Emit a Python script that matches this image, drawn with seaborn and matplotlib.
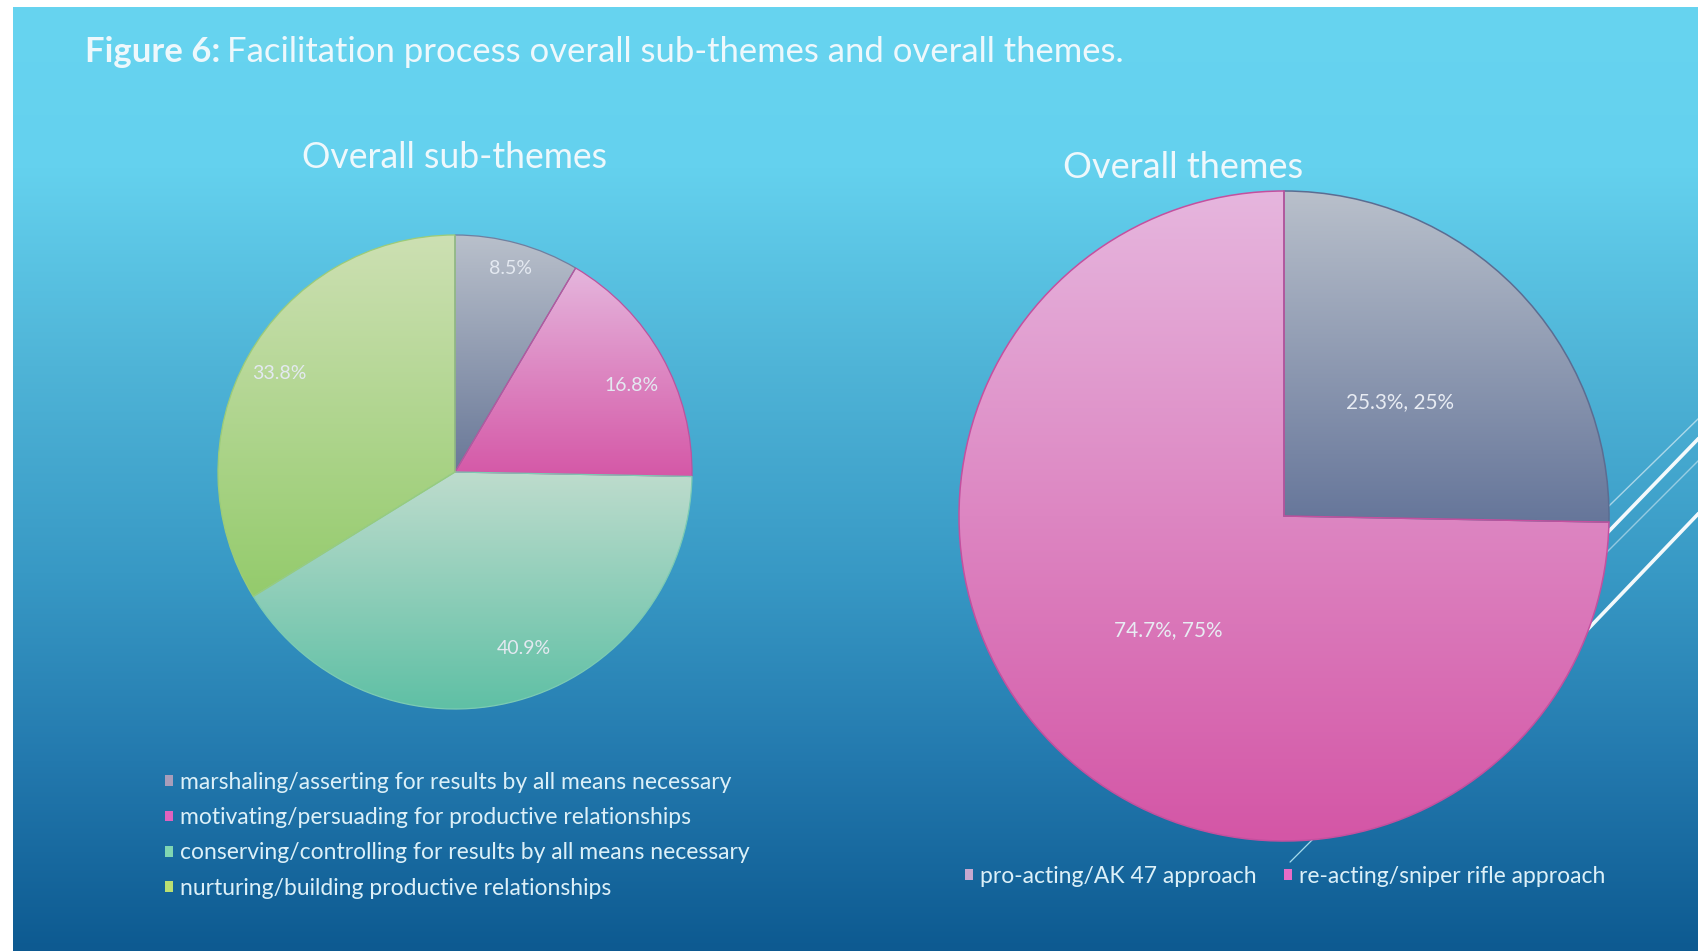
import numpy as np
import matplotlib
matplotlib.use("Agg")
import matplotlib.pyplot as plt
from matplotlib.colors import LinearSegmentedColormap
from matplotlib.patches import Patch
import seaborn as sns

# ---- data -------------------------------------------------------------
sub_labels = [
    "marshaling/asserting for results by all means necessary",
    "motivating/persuading for productive relationships",
    "conserving/controlling for results by all means necessary",
    "nurturing/building productive relationships",
]
sub_values = [8.5, 16.8, 40.9, 33.8]

theme_labels = ["pro-acting/AK 47 approach", "re-acting/sniper rifle approach"]
theme_values = [25.3, 74.7]

title_bold = "Figure 6:"
title_rest = "Facilitation process overall sub-themes and overall themes."
sub_title = "Overall sub-themes"
theme_title = "Overall themes"

# label placement inside the sub-theme slices (radius, angular nudge in deg)
sub_label_radius = [0.89, 0.83, 0.80, 0.85]
sub_label_nudge = [0, -3, 6, 0]

# ---- colours ------------------------------------------------------------
sub_tops = ["#b9c0cb", "#e5b6dd", "#bedccd", "#cde0b3"]
sub_bottoms = ["#697898", "#d558a7", "#5fc0a5", "#94cb6c"]
sub_edges = ["#6f7fa0", "#b9549f", "#7ccbb3", "#9ccc78"]
sub_keys = ["#a89dba", "#e062be", "#80d6b2", "#badf72"]

theme_tops = ["#b9c0cb", "#e6b6de"]
theme_bottoms = ["#66769a", "#d456a6"]
theme_edges = ["#5b6d92", "#c4509f"]
theme_keys = ["#c6a8cf", "#e86cc6"]

text_col = "#eef8fc"

sns.set_theme(style="white")
plt.rcParams["font.family"] = ["Lato", "DejaVu Sans"]

W, H = 1699, 951
fig = plt.figure(figsize=(W / 100, H / 100), dpi=100, facecolor="white")
renderer = fig.canvas.get_renderer()


def px(x, y):
    """figure pixel (y measured downwards) -> figure fraction"""
    return x / W, 1 - y / H


def text_width(s, size, **kw):
    t = fig.text(0, 0, s, fontsize=size, **kw)
    w = t.get_window_extent(renderer).width
    t.remove()
    return w


def fit_size(s, target, **kw):
    return 20 * target / text_width(s, 20, **kw)


# ---- slide background -----------------------------------------------------
bg = fig.add_axes([13 / W, 0, (W - 13) / W, (H - 7) / H], zorder=0)
bg_cmap = LinearSegmentedColormap.from_list(
    "bg",
    [(0.0, "#67d4f0"), (0.17, "#64d1ee"), (0.38, "#4fb4d7"),
     (0.6, "#3899c5"), (0.8, "#2379ae"), (1.0, "#0d5a91")],
)
grad = np.linspace(0, 1, 512).reshape(-1, 1)
bg.imshow(grad, cmap=bg_cmap, aspect="auto", extent=[13, W, H, 7],
          origin="upper", interpolation="bicubic")
bg.set_xlim(13, W)
bg.set_ylim(H, 7)
bg.set_axis_off()

# decorative diagonal strokes at the right edge
strokes = [
    ((1612, 503), (1699, 418), 1.0, 0.55),
    ((1612, 528), (1699, 438), 2.6, 0.95),
    ((1612, 547), (1699, 460), 1.0, 0.45),
    ((1590, 627), (1699, 513), 2.6, 0.95),
]
for (x0, y0), (x1, y1), lw, a in strokes:
    k = (y1 - y0) / (x1 - x0)
    xs = np.array([1450, 1720])
    bg.plot(xs, y0 + k * (xs - x0), color="white", lw=lw, alpha=a,
            solid_capstyle="butt")


# ---- pies -----------------------------------------------------------------
def pie_axes(cx, cy, r, lim=1.06):
    half = r * lim
    ax = fig.add_axes([(cx - half) / W, (H - cy - half) / H,
                       2 * half / W, 2 * half / H], zorder=2)
    return ax, lim


def shade(ax, wedges, tops, bottoms, edges, lw):
    for w, t, b, e in zip(wedges, tops, bottoms, edges):
        x0, y0, x1, y1 = w.get_path().get_extents().extents
        cmap = sns.blend_palette([t, b], as_cmap=True)
        im = ax.imshow(grad, cmap=cmap, extent=[x0, x1, y0, y1],
                       origin="upper", aspect="auto", zorder=0.5,
                       interpolation="bicubic")
        im.set_clip_path(w)
        w.set_facecolor("none")
        w.set_edgecolor(e)
        w.set_linewidth(lw)


# left: sub-themes
ax1, lim1 = pie_axes(455, 472, 237)
lab_size1 = fit_size("16.8%", 54)
w1, t1, a1 = ax1.pie(
    sub_values, startangle=90, counterclock=False, colors=sub_tops,
    autopct=lambda p: f"{p:.1f}%", pctdistance=0.84,
    textprops=dict(color="#e4e9f1", fontsize=lab_size1),
)
shade(ax1, w1, sub_tops, sub_bottoms, sub_edges, 0.9)
for w, txt, rad, nudge in zip(w1, a1, sub_label_radius, sub_label_nudge):
    ang = np.radians((w.theta1 + w.theta2) / 2 + nudge)
    txt.set_position((rad * np.cos(ang), rad * np.sin(ang)))
ax1.set_xlim(-lim1, lim1)
ax1.set_ylim(-lim1, lim1)
ax1.set_aspect("auto")
ax1.set_axis_off()

# right: themes
ax2, lim2 = pie_axes(1284, 516, 325)
lab_size2 = fit_size("25.3%, 25%", 108)
w2, t2, a2 = ax2.pie(
    theme_values, startangle=90, counterclock=False, colors=theme_tops,
    autopct=lambda p: f"{p:.1f}%, {p:.0f}%", pctdistance=0.5,
    textprops=dict(color="#e8ecf3", fontsize=lab_size2),
)
shade(ax2, w2, theme_tops, theme_bottoms, theme_edges, 1.1)
ax2.plot([np.cos(np.radians(-85)), 1.065 * np.cos(np.radians(-89))],
         [np.sin(np.radians(-85)), 1.065 * np.sin(np.radians(-89))],
         color="#a6dcec", lw=0.9, zorder=0.2, clip_on=False)
ax2.set_xlim(-lim2, lim2)
ax2.set_ylim(-lim2, lim2)
ax2.set_aspect("auto")
ax2.set_axis_off()

# ---- titles -----------------------------------------------------------------
gap = 7
wb20 = text_width(title_bold, 20, fontweight="bold")
wr20 = text_width(title_rest, 20)
ts = 20 * (1038 - gap) / (wb20 + wr20)
wb = wb20 * ts / 20
fig.text(*px(85, 52), title_bold, fontsize=ts, fontweight="bold",
         color=text_col, va="center", ha="left")
fig.text(*px(85 + wb + gap, 52), title_rest, fontsize=ts, color=text_col,
         va="center", ha="left")

st1 = fit_size(sub_title, 306)
st2 = fit_size(theme_title, 241)
fig.text(*px(455, 158), sub_title, fontsize=st1, color=text_col,
         ha="center", va="center")
fig.text(*px(1183, 168), theme_title, fontsize=st2, color=text_col,
         ha="center", va="center")

# ---- legends ----------------------------------------------------------------
lg = fit_size(sub_labels[0], 553)
leg_kw = dict(frameon=False, fontsize=lg, labelcolor="#dcf0f8",
              handlelength=0.34, handleheight=0.34, handletextpad=0.3,
              borderpad=0, borderaxespad=0, loc="upper left",
              bbox_transform=fig.transFigure)
fig.legend([Patch(facecolor=c, edgecolor="none") for c in sub_keys],
           sub_labels, bbox_to_anchor=px(165, 772), labelspacing=0.62,
           **leg_kw)
fig.legend([Patch(facecolor=c, edgecolor="none") for c in theme_keys],
           theme_labels, bbox_to_anchor=px(965, 866), ncol=2,
           columnspacing=1.2, **leg_kw)

fig.savefig("out.png", dpi=100, facecolor=fig.get_facecolor())
